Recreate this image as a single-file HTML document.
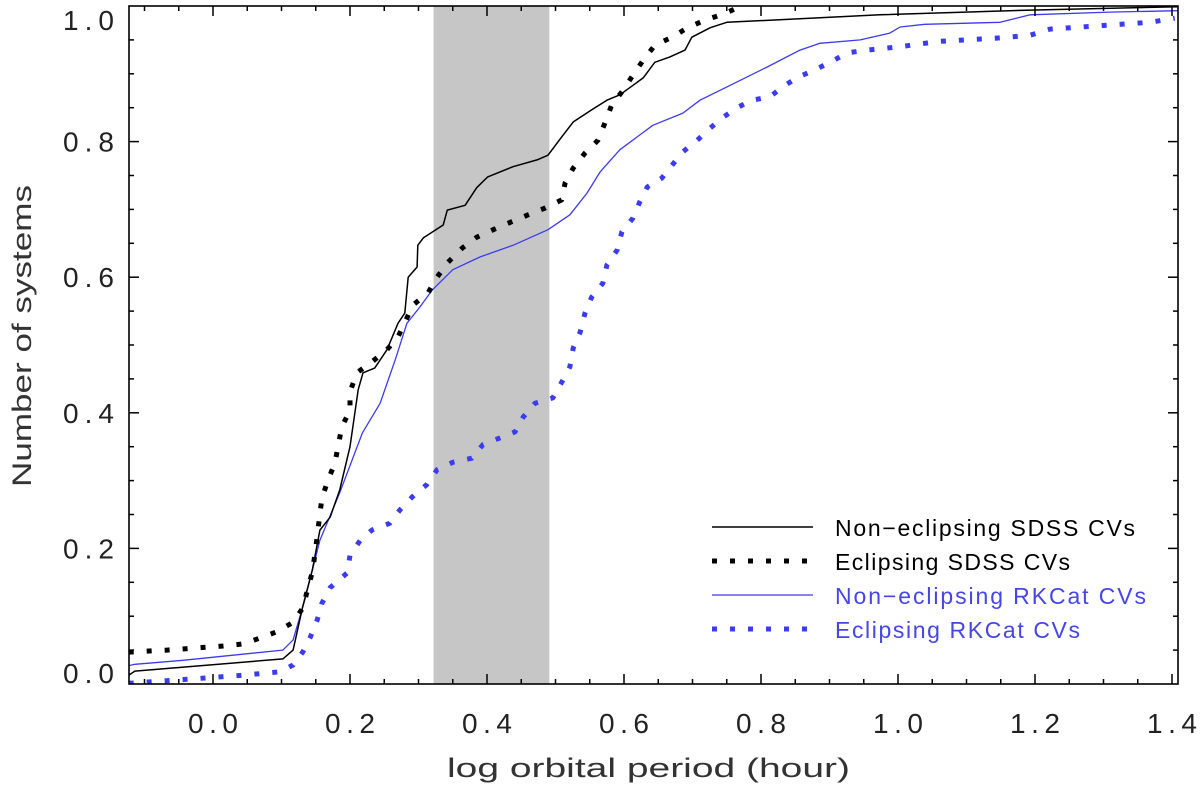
<!DOCTYPE html>
<html><head><meta charset="utf-8"><style>
html,body{margin:0;padding:0;background:#fff;}
svg{display:block;font-family:"Liberation Sans","DejaVu Sans",sans-serif;}
</style></head><body>
<svg id="chart" width="1200" height="791" viewBox="0 0 1200 791" xmlns="http://www.w3.org/2000/svg">
<rect x="0" y="0" width="1200" height="791" fill="#fff"/>
<g id="plot"></g>
</svg>
<script>
const xTicks = [0.0, 0.2, 0.4, 0.6, 0.8, 1.0, 1.2, 1.4];
const xTickLabels = ["0.0","0.2","0.4","0.6","0.8","1.0","1.2","1.4"];
const yTicks = [0.0, 0.2, 0.4, 0.6, 0.8, 1.0];
const yTickLabels = ["0.0","0.2","0.4","0.6","0.8","1.0"];
const gapBand = [0.322, 0.491];

const nonEclSdssX = [-0.123,-0.114,0.102,0.117,0.131,0.145,0.156,0.171,0.185,0.200,0.212,0.219,0.236,0.254,0.270,0.280,0.285,0.298,0.299,0.307,0.336,0.342,0.368,0.385,0.401,0.438,0.473,0.489,0.509,0.526,0.553,0.575,0.594,0.628,0.645,0.667,0.689,0.699,0.726,0.750,0.974,1.193,1.409];
const nonEclSdssY = [0.013,0.019,0.037,0.050,0.114,0.168,0.227,0.246,0.286,0.350,0.434,0.459,0.466,0.493,0.532,0.547,0.600,0.615,0.647,0.658,0.677,0.699,0.706,0.732,0.748,0.763,0.773,0.780,0.807,0.829,0.847,0.861,0.869,0.894,0.917,0.925,0.935,0.954,0.968,0.976,0.987,0.994,0.999];

const eclSdssX = [-0.123,-0.067,0.015,0.044,0.069,0.093,0.117,0.131,0.145,0.149,0.159,0.168,0.178,0.188,0.200,0.200,0.210,0.232,0.254,0.270,0.292,0.314,0.327,0.343,0.364,0.385,0.409,0.434,0.460,0.485,0.509,0.514,0.526,0.543,0.562,0.572,0.582,0.599,0.613,0.628,0.645,0.670,0.693,0.718,0.745,0.769];
const eclSdssY = [0.047,0.050,0.056,0.059,0.068,0.077,0.091,0.112,0.165,0.193,0.274,0.301,0.326,0.379,0.404,0.431,0.459,0.475,0.493,0.512,0.559,0.577,0.600,0.622,0.643,0.659,0.670,0.681,0.692,0.702,0.714,0.739,0.761,0.783,0.802,0.827,0.854,0.876,0.898,0.920,0.942,0.954,0.968,0.979,0.988,0.999];

const nonEclRkX = [-0.123,-0.114,-0.044,0.102,0.117,0.134,0.156,0.185,0.218,0.244,0.266,0.283,0.302,0.320,0.350,0.390,0.438,0.489,0.521,0.546,0.565,0.594,0.642,0.686,0.711,0.755,0.809,0.857,0.886,0.945,0.988,1.003,1.039,1.149,1.193,1.309,1.409];
const nonEclRkY = [0.027,0.029,0.035,0.050,0.065,0.124,0.212,0.282,0.370,0.414,0.478,0.532,0.556,0.581,0.611,0.630,0.647,0.670,0.692,0.724,0.755,0.788,0.824,0.842,0.861,0.883,0.910,0.935,0.945,0.950,0.960,0.969,0.973,0.976,0.987,0.991,0.993];

const eclRkX = [-0.123,-0.038,0.044,0.098,0.117,0.131,0.142,0.152,0.159,0.171,0.196,0.200,0.215,0.232,0.258,0.273,0.291,0.312,0.327,0.350,0.378,0.394,0.419,0.441,0.453,0.470,0.496,0.509,0.521,0.526,0.536,0.543,0.553,0.569,0.575,0.590,0.597,0.613,0.623,0.634,0.655,0.670,0.686,0.707,0.726,0.745,0.765,0.787,0.813,0.832,0.854,0.879,0.901,0.926,0.955,1.003,1.061,1.149,1.193,1.222,1.295,1.368,1.404];
const eclRkY = [0.001,0.007,0.013,0.018,0.028,0.047,0.069,0.094,0.119,0.142,0.164,0.190,0.212,0.227,0.237,0.257,0.276,0.294,0.316,0.327,0.333,0.353,0.363,0.372,0.394,0.414,0.422,0.445,0.468,0.496,0.519,0.547,0.571,0.591,0.618,0.640,0.667,0.687,0.711,0.733,0.746,0.765,0.785,0.802,0.820,0.836,0.850,0.861,0.866,0.881,0.895,0.906,0.917,0.931,0.935,0.940,0.948,0.953,0.957,0.966,0.971,0.976,0.982];

const L=129, R=1178, T=6, B=684;
function sx(v){ return 213 + v*685; }
function sy(v){ return 684 - v*678; }
const NS="http://www.w3.org/2000/svg";
const g=document.getElementById('plot');
function mk(tag, attrs, parent){
  const e=document.createElementNS(NS,tag);
  for(const k in attrs) e.setAttribute(k, attrs[k]);
  (parent||g).appendChild(e);
  return e;
}
const band=mk('rect',{x:sx(gapBand[0]),y:T,width:sx(gapBand[1])-sx(gapBand[0]),height:B-T,fill:'#c6c6c6'});



const clip=mk('clipPath',{id:'clp'});
mk('rect',{x:L,y:T,width:R-L,height:B-T},clip);

function series(xs, ys, color, width, dash, name){
  const d=xs.map((x,i)=>(i?'L':'M')+sx(x).toFixed(1)+' '+sy(ys[i]).toFixed(1)).join(' ');
  const p=mk('path',{d:d,fill:'none',stroke:color,'stroke-width':width,'stroke-linejoin':'round','clip-path':'url(#clp)'});
  if(dash) p.setAttribute('stroke-dasharray', dash);
  
  
}
series(eclRkX, eclRkY, '#3b3bf0', 5, '5 13', 'line-eclipsing-rkcat');
series(nonEclRkX, nonEclRkY, '#3b3bf0', 1.3, null, 'line-non-eclipsing-rkcat');
series(eclSdssX, eclSdssY, '#000', 5, '5 13', 'line-eclipsing-sdss');
series(nonEclSdssX, nonEclSdssY, '#000', 1.5, null, 'line-non-eclipsing-sdss');

const fr=mk('rect',{x:L,y:T,width:R-L,height:B-T,fill:'none',stroke:'#000','stroke-width':1.6});



for(let i=-2;i<=28;i++){
  const v=i*0.05; const x=sx(v);
  if(x<L+1||x>R-1) continue;
  const major=(i%4===0); const len=major?10:5;
  mk('line',{x1:x,y1:B,x2:x,y2:B-len,stroke:'#000','stroke-width':1.5});
  mk('line',{x1:x,y1:T,x2:x,y2:T+len,stroke:'#000','stroke-width':1.5});
}
for(let i=0;i<=20;i++){
  const v=i*0.05; const y=sy(v);
  if(y<T+1||y>B-1) continue;
  const major=(i%4===0); const len=major?10:5;
  mk('line',{x1:L,y1:y,x2:L+len,y2:y,stroke:'#000','stroke-width':1.5});
  mk('line',{x1:R,y1:y,x2:R-len,y2:y,stroke:'#000','stroke-width':1.5});
}
xTicks.forEach((v,i)=>{
  const t=mk('text',{x:sx(v)-25,y:733,'font-size':28,fill:'#222',textLength:50,lengthAdjust:'spacing'});
  t.textContent=xTickLabels[i];
  
  
});
yTicks.forEach((v,i)=>{
  let y=sy(v)+10; if(i===0) y=683; if(i===yTicks.length-1) y=30;
  const t=mk('text',{x:63,y:y,'font-size':28,fill:'#222',textLength:51,lengthAdjust:'spacing'});
  t.textContent=yTickLabels[i];
  
  
});
const xt=mk('text',{x:447,y:777,'font-size':27,fill:'#333',textLength:403,lengthAdjust:'spacingAndGlyphs'});
xt.textContent='log orbital period (hour)';


const yt=mk('text',{x:0,y:0,'font-size':27,fill:'#333',textLength:302,lengthAdjust:'spacingAndGlyphs',transform:'translate(31,487) rotate(-90)'});
yt.textContent='Number of systems';



const legNames=['Non\u2212eclipsing SDSS CVs','Eclipsing SDSS CVs','Non\u2212eclipsing RKCat CVs','Eclipsing RKCat CVs'];
const legColors=['#000','#000','#3b3bf0','#3b3bf0'];
const legDash=[null,'5 13',null,'5 13'];
const legW=[1.5,5,1.3,5];
const legLen=[300,235,311,245];
legNames.forEach((n,i)=>{
  const y=527+i*34;
  const ln=mk('line',{x1:712,y1:y,x2:813,y2:y,stroke:legColors[i],'stroke-width':legW[i]});
  if(legDash[i]) ln.setAttribute('stroke-dasharray', legDash[i]);
  
  
  const t=mk('text',{x:835,y:y+9,'font-size':23,fill:i<2?'#000':'#4646e6',textLength:legLen[i],lengthAdjust:'spacing'});
  t.textContent=n;
  
  
});
</script>
</body></html>
